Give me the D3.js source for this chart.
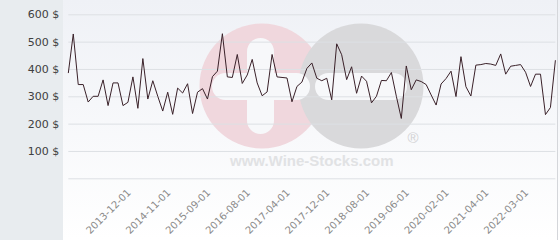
<!DOCTYPE html>
<html>
<head>
<meta charset="utf-8">
<script src="https://cdn.jsdelivr.net/npm/d3@7"></script>
<style>
  html, body { margin: 0; padding: 0; background: #fff; }
  svg { display: block; font-family: "DejaVu Sans", Verdana, sans-serif; }
</style>
</head>
<body>
<svg id="chart" width="560" height="240"></svg>
<script>
"use strict";

// price per observation, in order
var prices = [
  385, 528, 343, 343, 279, 300, 300, 360, 266, 349,
  349, 266, 278, 371, 256, 438, 290, 357, 300, 246,
  315, 234, 330, 312, 346, 237, 315, 328, 290, 372,
  392, 529, 371, 369, 453, 347, 378, 435, 349, 302,
  316, 453, 371, 369, 367, 280, 336, 352, 402, 422,
  366, 357, 366, 287, 492, 452, 361, 408, 311, 374,
  355, 276, 300, 358, 357, 387, 300, 219, 411, 324,
  360, 354, 343, 305, 268, 345, 365, 392, 299, 445,
  335, 301, 414, 416, 420, 418, 413, 455, 381, 410,
  413, 416, 388, 336, 381, 381, 233, 259, 432
];

var tickLabels = ["2013-12-01", "2014-11-01", "2015-09-01", "2016-08-01", "2017-04-01",
  "2017-12-01", "2018-08-01", "2019-06-01", "2020-02-01", "2021-04-01", "2022-03-01"];
// observation index each label belongs to
var tickIndexes = [12, 20, 28, 36, 44, 52, 60, 68, 76, 84, 92];

var yTicks = [0, 100, 200, 300, 400, 500, 600];

var W = 560, H = 240;
var PANEL_WIDTH = 63;
var margin = { left: 68.3, right: 4.6, top: 14.3, bottom: 61.7 };

var svg = d3.select("#chart");

var x = d3.scalePoint()
  .domain(d3.range(prices.length))
  .range([margin.left, W - margin.right]);

var y = d3.scaleLinear()
  .domain([0, 600])
  .range([H - margin.bottom, margin.top]);

// backgrounds
var defs = svg.append("defs");
var grad = defs.append("linearGradient")
  .attr("id", "plotBg").attr("x1", 0).attr("y1", 0).attr("x2", 0).attr("y2", 1);
grad.append("stop").attr("offset", "0%").attr("stop-color", "#eff1f6");
grad.append("stop").attr("offset", "100%").attr("stop-color", "#ffffff");

svg.append("rect").attr("x", 0).attr("y", 0).attr("width", PANEL_WIDTH).attr("height", H).attr("fill", "#e8ecef");
svg.append("rect").attr("x", PANEL_WIDTH).attr("y", 0).attr("width", W - PANEL_WIDTH).attr("height", H).attr("fill", "url(#plotBg)");
svg.append("line").attr("x1", 557.5).attr("x2", 557.5).attr("y1", 0).attr("y2", H)
  .attr("stroke", "#d4d6da");

// watermark
var mark = svg.append("g").attr("class", "watermark");
mark.append("circle").attr("cx", 262).attr("cy", 86).attr("r", 62.5).attr("fill", "#f0d7dd");
mark.append("circle").attr("cx", 361).attr("cy", 86).attr("r", 62.5).attr("fill", "#d9d9db");
mark.selectAll("rect.bar")
  .data([[212, 73, 98, 27], [315, 73, 92, 27], [247, 38, 27, 96]])
  .enter().append("rect")
  .attr("class", "bar")
  .attr("x", function (d) { return d[0]; })
  .attr("y", function (d) { return d[1]; })
  .attr("width", function (d) { return d[2]; })
  .attr("height", function (d) { return d[3]; })
  .attr("rx", 13.5)
  .attr("fill", "#f7f8fa");
mark.append("text").attr("x", 230).attr("y", 166)
  .attr("font-family", "'Liberation Sans', Arial, sans-serif").attr("font-weight", "bold")
  .attr("font-size", 15).attr("fill", "#e1e2e4").text("www.Wine-Stocks.com");
mark.append("text").attr("x", 413).attr("y", 143).attr("text-anchor", "middle")
  .attr("font-family", "'Liberation Sans', Arial, sans-serif")
  .attr("font-size", 15).attr("fill", "#d2d2d4").text("\u00ae");

// grid + y labels
var yAxis = d3.axisLeft(y)
  .tickValues(yTicks)
  .tickSize(-(W - margin.left - margin.right))
  .tickPadding(9)
  .tickFormat(function (d) { return d === 0 ? "" : d + " $"; });

var yG = svg.append("g")
  .attr("transform", "translate(" + margin.left + ",0)")
  .call(yAxis);
yG.select(".domain").remove();
yG.selectAll(".tick line").attr("stroke", "#dde0e4");
yG.selectAll(".tick text")
  .attr("fill", "#404040")
  .attr("font-size", 11)
  .attr("font-family", "'DejaVu Sans', Verdana, sans-serif");

// price line
svg.append("path")
  .datum(prices)
  .attr("fill", "none")
  .attr("stroke", "#3a2129")
  .attr("stroke-width", 1)
  .attr("stroke-linejoin", "miter")
  .attr("d", d3.line()
    .x(function (d, i) { return x(i); })
    .y(function (d) { return y(d); }));

// x labels
var xAxis = d3.axisBottom(x)
  .tickValues(tickIndexes)
  .tickSize(0)
  .tickFormat(function (d) { return tickLabels[tickIndexes.indexOf(d)]; });

var xG = svg.append("g")
  .attr("transform", "translate(0," + (H - margin.bottom) + ")")
  .call(xAxis);
xG.select(".domain").remove();
xG.selectAll(".tick text")
  .attr("fill", "#8a8a8a")
  .attr("font-size", 10)
  .attr("font-family", "'DejaVu Sans', Verdana, sans-serif")
  .attr("text-anchor", "end")
  .attr("dy", 0)
  .attr("y", 0)
  .attr("transform", "translate(3,15) rotate(-45)");
</script>
</body>
</html>
